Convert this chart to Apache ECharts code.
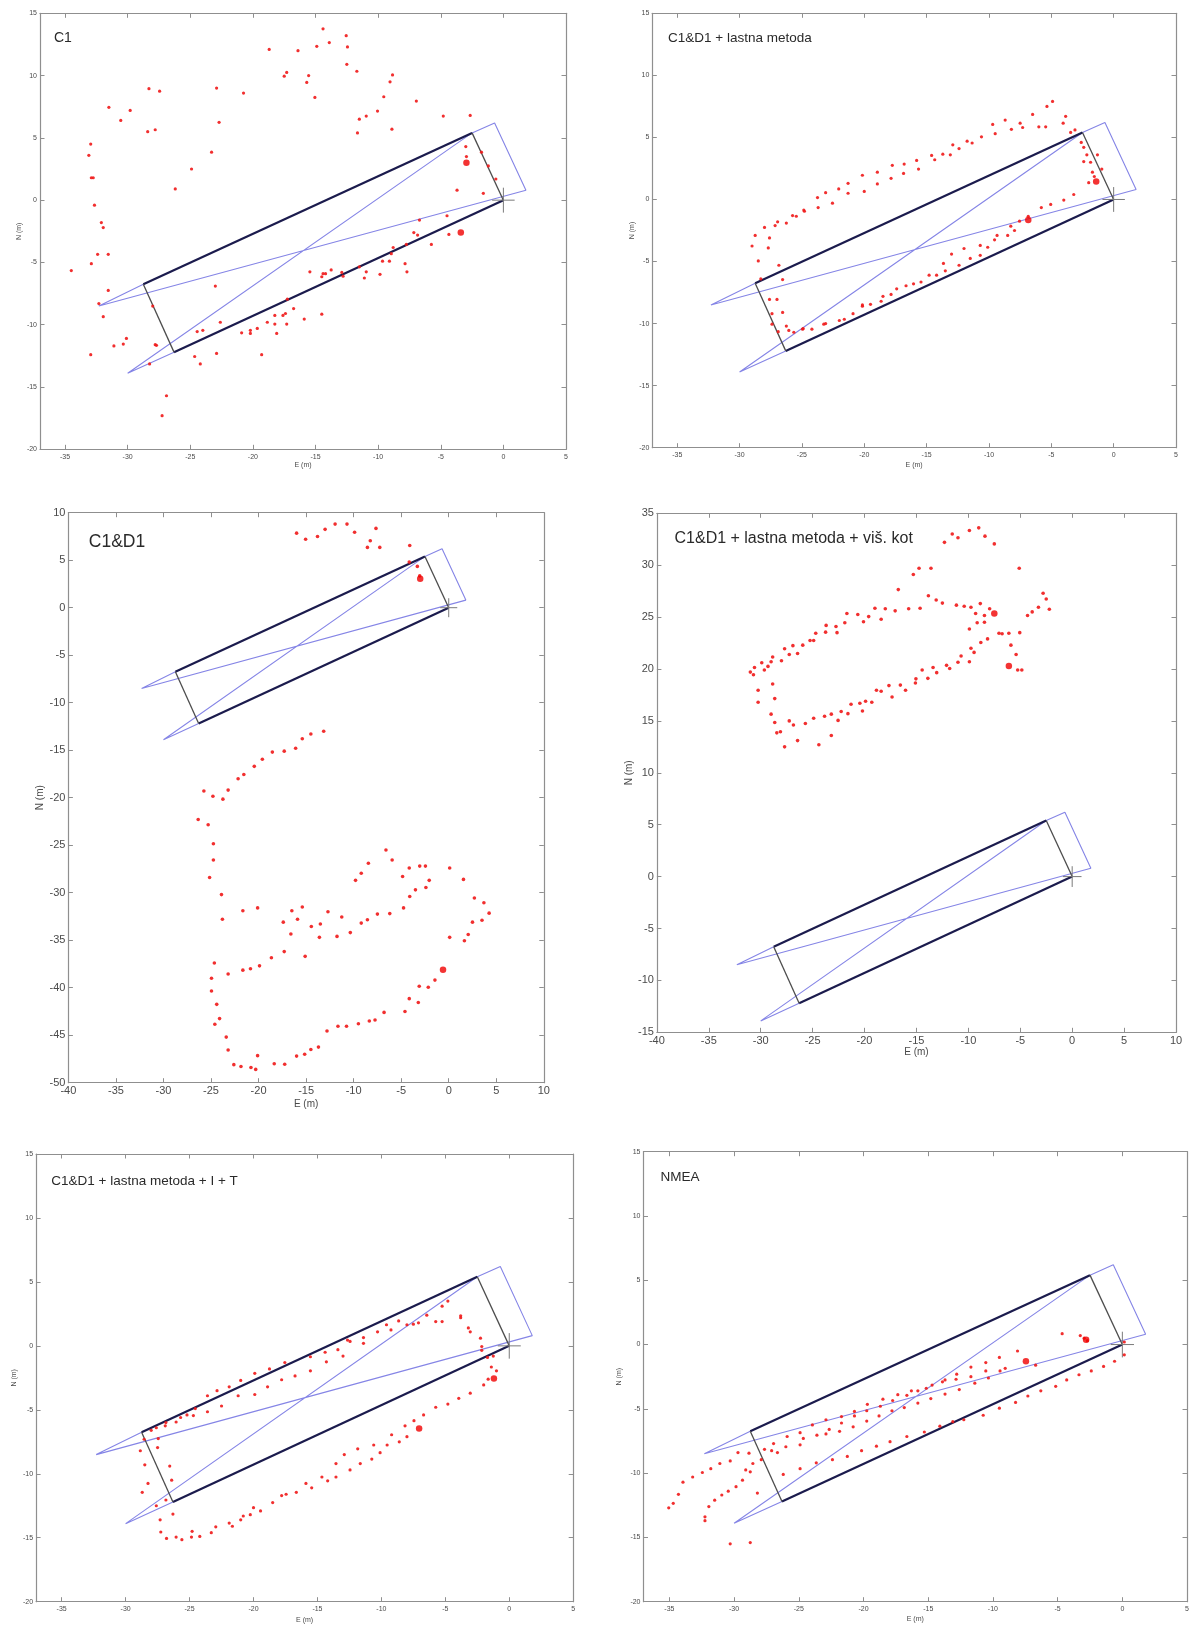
<!DOCTYPE html>
<html>
<head>
<meta charset="utf-8">
<script src="https://cdn.jsdelivr.net/npm/echarts@6/dist/echarts.min.js"></script>
<style>
html,body{margin:0;padding:0;background:#fff;}
#chart{width:1192px;height:1625px;}
</style>
</head>
<body>
<div id="chart"></div>
<script>
// ---------- DATA ----------
const panelTitles = ["C1", "C1&D1 + lastna metoda", "C1&D1", "C1&D1 + lastna metoda + viš. kot", "C1&D1 + lastna metoda + I + T", "NMEA"];
const xLabelName = "E (m)";
const yLabelName = "N (m)";

// axis ranges per panel [xmin, xmax, ymin, ymax]
const axisRanges = [
  [-37, 5, -20, 15],
  [-37, 5, -20, 15],
  [-40, 10, -50, 10],
  [-40, 10, -15, 35],
  [-37, 5, -20, 15],
  [-37, 5, -20, 15]
];
const xTicksA = [-35, -30, -25, -20, -15, -10, -5, 0, 5];
const xTicksB = [-40, -35, -30, -25, -20, -15, -10, -5, 0, 5, 10];
const yTicksA = [-20, -15, -10, -5, 0, 5, 10, 15];
const yTicksB = [-50, -45, -40, -35, -30, -25, -20, -15, -10, -5, 0, 5, 10];
const yTicksC = [-15, -10, -5, 0, 5, 10, 15, 20, 25, 30, 35];

// building outline (E, N)
const rectTopEdge = [[-28.75, -6.75], [-2.5, 5.4]];
const rectBottomEdge = [[0, 0], [-26.3, -12.2]];
const rectRightEdge = [[-2.5, 5.4], [0, 0]];
const rectLeftEdge = [[-28.75, -6.75], [-26.3, -12.2]];
const bluePath = [[-28.75, -6.75], [-32.3, -8.5], [1.8, 0.8], [-0.7, 6.2], [-2.5, 5.4], [-30.0, -13.9], [-26.3, -12.2]];
const crossH = [[-0.9, 0], [0.9, 0]];
const crossV = [[0, -1.0], [0, 1.0]];

// measured positions
const pts1 = [[-14.4,13.75],[-12.55,13.2],[-18.7,12.1],[-16.4,12.0],[-14.9,12.35],[-13.9,12.65],[-12.45,12.3],[-12.5,10.9],[-17.3,10.25],[-17.5,9.95],[-15.55,10.0],[-15.7,9.45],[-11.7,10.35],[-8.85,10.05],[-9.05,9.5],[-15.05,8.25],[-9.55,8.3],[-6.95,7.95],[-10.05,7.15],[-11.5,6.5],[-10.95,6.75],[-4.8,6.75],[-2.65,6.8],[-11.65,5.4],[-8.9,5.7],[-22.9,9.0],[-20.75,8.6],[-22.7,6.25],[-23.3,3.85],[-24.9,2.5],[-26.2,0.9],[-28.3,8.95],[-27.45,8.75],[-28.4,5.5],[-27.8,5.65],[-31.5,7.45],[-29.8,7.2],[-30.55,6.4],[-32.95,4.5],[-33.1,3.6],[-32.9,1.8],[-32.75,1.8],[-32.65,-0.4],[-32.1,-1.8],[-31.95,-2.2],[-32.4,-4.35],[-31.55,-4.35],[-32.9,-5.1],[-34.5,-5.65],[-31.55,-7.25],[-32.3,-8.3],[-31.95,-9.35],[-28.0,-8.5],[-31.1,-11.7],[-30.35,-11.55],[-30.1,-11.1],[-32.95,-12.4],[-27.8,-11.6],[-27.7,-11.65],[-28.25,-13.15],[-26.9,-15.7],[-27.25,-17.3],[-24.45,-10.55],[-24.0,-10.45],[-22.6,-9.8],[-24.65,-12.55],[-24.2,-13.15],[-22.9,-12.3],[-23.0,-6.9],[-20.9,-10.65],[-20.2,-10.45],[-20.2,-10.7],[-19.65,-10.3],[-19.3,-12.4],[-18.85,-9.8],[-18.25,-9.25],[-18.25,-9.95],[-18.1,-10.7],[-17.6,-9.25],[-17.4,-9.1],[-17.3,-9.95],[-17.25,-7.95],[-16.75,-8.7],[-15.9,-9.55],[-15.45,-5.75],[-14.5,-6.15],[-14.4,-5.9],[-14.2,-5.9],[-13.75,-5.6],[-14.5,-9.15],[-12.9,-5.8],[-12.8,-6.1],[-11.5,-5.35],[-11.1,-6.25],[-10.95,-5.75],[-9.85,-5.95],[-9.65,-4.9],[-9.1,-4.9],[-8.95,-4.3],[-8.8,-3.8],[-7.85,-5.1],[-7.7,-5.75],[-7.75,-3.55],[-7.15,-2.6],[-6.85,-2.8],[-6.7,-1.6],[-5.75,-3.55],[-4.5,-1.25],[-4.35,-2.75],[-3.7,0.8],[-2.95,3.5],[-3.0,4.3],[-1.75,3.85],[-1.2,2.75],[-0.6,1.7],[-1.6,0.55]];
const big1 = [[-3.4,-2.6],[-2.95,3.0]];

const pts2 = [[-4.9,7.9],[-5.35,7.5],[-3.85,6.7],[-6.5,6.85],[-4.05,6.15],[-8.7,6.4],[-7.5,6.15],[-9.7,6.05],[-6.0,5.85],[-5.45,5.85],[-7.3,5.8],[-8.2,5.65],[-3.45,5.4],[-3.1,5.6],[-9.5,5.3],[-10.6,5.05],[-11.75,4.7],[-11.35,4.55],[-12.9,4.4],[-12.4,4.1],[-14.6,3.55],[-14.35,3.2],[-13.7,3.65],[-13.1,3.6],[-15.8,3.15],[-15.65,2.45],[-16.8,2.85],[-17.75,2.75],[-16.85,2.1],[-17.85,1.7],[-18.95,2.2],[-18.95,1.25],[-20.15,1.95],[-20.0,0.65],[-21.3,1.3],[-21.3,0.5],[-22.05,0.85],[-23.1,0.55],[-23.75,0.15],[-22.55,-0.3],[-23.7,-0.65],[-24.8,-0.95],[-24.85,-0.85],[-25.75,-1.3],[-25.45,-1.35],[-26.25,-1.9],[-26.95,-1.8],[-27.15,-2.1],[-28.0,-2.25],[-27.6,-3.1],[-28.75,-2.9],[-29.0,-3.75],[-27.7,-3.9],[-28.5,-4.95],[-26.85,-5.3],[-28.3,-6.4],[-26.55,-6.45],[-27.6,-8.05],[-27.0,-8.05],[-27.4,-9.2],[-26.55,-9.1],[-27.4,-10.05],[-26.9,-10.65],[-26.25,-10.2],[-26.05,-10.55],[-25.65,-10.7],[-24.95,-10.45],[-24.9,-10.4],[-24.2,-10.45],[-23.25,-10.05],[-23.1,-10.0],[-22.0,-9.75],[-21.6,-9.65],[-20.9,-9.2],[-20.15,-8.6],[-20.15,-8.5],[-19.5,-8.45],[-18.65,-8.2],[-18.5,-7.8],[-17.85,-7.65],[-17.4,-7.2],[-16.65,-6.95],[-16.05,-6.8],[-15.45,-6.65],[-14.8,-6.1],[-14.2,-6.1],[-13.65,-5.15],[-13.5,-5.75],[-13.0,-4.4],[-12.4,-5.3],[-12.0,-3.95],[-11.5,-4.75],[-10.7,-4.5],[-10.7,-3.7],[-10.1,-3.85],[-9.55,-3.25],[-9.35,-2.9],[-8.5,-2.9],[-8.25,-2.15],[-7.95,-2.5],[-7.55,-1.75],[-6.85,-1.35],[-5.8,-0.65],[-5.05,-0.4],[-4.0,-0.05],[-3.2,0.4],[-2.6,4.6],[-2.4,4.2],[-2.15,3.6],[-1.3,3.6],[-2.4,3.05],[-1.85,3.0],[-0.95,2.45],[-1.7,2.2],[-1.55,1.85],[-2.0,1.35]];
const big2 = [[-6.85,-1.65],[-1.4,1.45]];

const pts3 = [[-16.0,7.85],[-15.05,7.2],[-13.8,7.5],[-13.0,8.25],[-11.95,8.8],[-10.7,8.8],[-9.9,7.95],[-7.65,8.35],[-8.25,7.05],[-8.55,6.35],[-7.25,6.35],[-4.1,6.55],[-4.15,4.8],[-3.3,4.35],[-3.05,3.35],[-13.15,-13.0],[-14.5,-13.3],[-15.4,-13.8],[-16.1,-14.8],[-17.3,-15.1],[-18.55,-15.2],[-19.6,-15.95],[-20.45,-16.7],[-21.55,-17.55],[-22.15,-18.0],[-23.2,-19.2],[-23.75,-20.15],[-24.8,-19.85],[-25.75,-19.3],[-26.35,-22.3],[-25.3,-22.85],[-24.75,-24.85],[-24.75,-26.55],[-25.15,-28.4],[-23.9,-30.2],[-23.8,-32.8],[-21.65,-31.9],[-20.1,-31.6],[-24.65,-37.4],[-24.95,-39.0],[-23.2,-38.55],[-21.65,-38.15],[-20.85,-38.0],[-19.9,-37.7],[-18.65,-36.85],[-17.3,-36.2],[-15.1,-36.7],[-16.6,-34.35],[-17.4,-33.1],[-16.5,-31.9],[-15.4,-31.5],[-15.9,-32.8],[-14.45,-33.55],[-13.5,-33.3],[-13.6,-34.7],[-12.7,-32.0],[-11.75,-34.6],[-11.25,-32.55],[-10.35,-34.2],[-9.2,-33.2],[-8.55,-32.85],[-7.5,-32.25],[-6.2,-32.2],[-4.75,-31.6],[-4.1,-30.4],[-3.5,-29.7],[-2.4,-29.45],[-2.05,-28.7],[-4.85,-28.3],[-4.15,-27.4],[-3.05,-27.2],[-2.45,-27.2],[0.1,-27.4],[1.55,-28.6],[2.7,-30.55],[3.7,-31.05],[4.25,-32.15],[3.5,-32.9],[2.5,-33.1],[2.05,-34.4],[1.65,-35.05],[0.1,-34.7],[-6.6,-25.5],[-5.95,-26.55],[-8.45,-26.9],[-9.2,-27.95],[-9.8,-28.7],[-1.45,-39.2],[-2.15,-39.95],[-3.1,-39.85],[-4.15,-41.15],[-3.2,-41.55],[-4.6,-42.5],[-6.8,-42.6],[-7.75,-43.4],[-8.35,-43.5],[-9.5,-43.8],[-10.75,-44.05],[-11.65,-44.05],[-12.8,-44.55],[-13.7,-46.25],[-14.5,-46.5],[-15.15,-47.0],[-16.0,-47.2],[-17.25,-48.05],[-18.35,-48.0],[-20.1,-47.15],[-20.3,-48.6],[-20.8,-48.4],[-21.85,-48.3],[-22.6,-48.1],[-23.2,-46.55],[-23.4,-45.2],[-24.1,-43.25],[-24.6,-43.85],[-24.4,-41.75],[-24.95,-40.35]];
const big3 = [[-3.0,3.05],[-0.6,-38.1]];

const pts4 = [[-12.3,32.2],[-11.55,33.0],[-11.0,32.65],[-9.9,33.35],[-9.0,33.6],[-8.4,32.8],[-7.5,32.05],[-14.75,29.7],[-13.6,29.7],[-15.3,29.1],[-5.1,29.7],[-16.75,27.65],[-13.85,27.05],[-13.1,26.65],[-12.5,26.35],[-11.15,26.15],[-10.4,26.05],[-9.75,25.95],[-8.85,26.3],[-9.3,25.35],[-8.45,25.15],[-7.95,25.8],[-8.45,24.5],[-9.15,24.45],[-9.9,23.85],[-7.05,23.45],[-6.75,23.4],[-6.1,23.45],[-5.05,23.5],[-8.15,22.9],[-8.8,22.55],[-5.9,22.3],[-9.75,22.0],[-9.45,21.6],[-5.4,21.4],[-10.7,21.25],[-11.0,20.65],[-9.9,20.7],[-5.25,19.9],[-4.85,19.9],[-4.3,25.15],[-3.85,25.5],[-3.25,25.95],[-2.8,27.3],[-2.5,26.75],[-2.2,25.75],[-12.1,20.35],[-11.8,20.05],[-13.05,19.65],[-13.4,20.15],[-13.9,19.1],[-14.45,19.9],[-15.05,19.05],[-15.1,18.65],[-16.05,17.95],[-16.55,18.45],[-17.35,17.3],[-17.65,18.4],[-18.4,17.85],[-18.85,17.95],[-19.3,16.8],[-19.9,16.9],[-20.2,15.95],[-20.45,16.7],[-21.3,16.6],[-21.6,15.7],[-22.25,15.9],[-22.55,15.05],[-23.2,15.65],[-24.4,12.7],[-23.2,13.6],[-23.85,15.45],[-24.9,15.25],[-25.7,14.75],[-26.45,13.1],[-26.85,14.6],[-27.25,15.0],[-27.7,12.5],[-28.1,13.95],[-28.45,13.85],[-28.65,14.85],[-29.0,15.65],[-28.65,17.15],[-28.85,18.55],[-30.25,16.8],[-30.25,17.95],[-31.0,19.7],[-30.7,19.45],[-30.6,20.15],[-29.9,20.6],[-29.65,19.9],[-29.3,20.25],[-29.0,20.7],[-28.85,21.15],[-28.0,20.8],[-27.7,21.95],[-27.25,21.4],[-26.9,22.25],[-26.45,21.5],[-25.95,22.3],[-25.25,22.75],[-24.9,22.75],[-24.7,23.45],[-23.75,23.55],[-23.7,24.2],[-22.75,24.1],[-22.65,23.5],[-21.9,24.45],[-21.7,25.35],[-20.65,25.25],[-20.1,24.55],[-19.6,25.05],[-19.0,25.85],[-18.4,24.8],[-18.0,25.8],[-17.05,25.6],[-15.75,25.8],[-14.65,25.85]];
const big4 = [[-7.5,25.35],[-6.1,20.3]];

const pts5 = [[-4.8,3.5],[-5.25,3.1],[-3.8,2.35],[-3.8,2.2],[-5.75,1.9],[-5.25,1.9],[-6.45,2.4],[-7.1,1.8],[-7.5,1.7],[-8.0,1.65],[-8.65,1.95],[-9.25,1.25],[-9.6,1.65],[-10.3,1.1],[-11.4,0.65],[-11.4,0.2],[-12.45,0.35],[-12.65,0.45],[-13.0,-0.8],[-13.4,-0.3],[-14.4,-0.5],[-14.3,-1.25],[-15.55,-0.85],[-15.55,-1.95],[-16.75,-2.35],[-17.55,-1.3],[-17.8,-2.65],[-18.75,-1.8],[-18.9,-3.2],[-19.9,-2.15],[-19.9,-3.8],[-21.0,-2.7],[-21.2,-3.9],[-21.9,-3.2],[-22.5,-4.7],[-22.85,-3.5],[-23.6,-3.9],[-23.6,-5.15],[-24.55,-4.9],[-24.7,-5.45],[-25.2,-5.4],[-25.7,-5.6],[-26.05,-5.95],[-26.9,-6.25],[-26.85,-6.0],[-27.6,-6.4],[-28.0,-6.6],[-28.55,-7.3],[-28.85,-8.2],[-28.5,-9.3],[-28.25,-10.75],[-28.7,-11.45],[-27.6,-12.5],[-27.3,-13.6],[-27.25,-14.55],[-26.8,-15.05],[-26.05,-14.95],[-25.6,-15.15],[-24.85,-14.95],[-24.8,-14.5],[-24.2,-14.9],[-23.3,-14.6],[-22.95,-14.15],[-21.9,-13.85],[-21.65,-14.1],[-21.0,-13.6],[-20.8,-13.3],[-20.25,-13.2],[-20.0,-12.65],[-19.45,-12.9],[-18.5,-12.25],[-17.8,-11.7],[-17.45,-11.6],[-16.65,-11.45],[-15.9,-10.75],[-15.45,-11.1],[-14.65,-10.25],[-14.2,-10.55],[-13.55,-10.25],[-13.55,-9.2],[-12.9,-8.5],[-12.45,-9.7],[-11.85,-8.05],[-11.65,-9.2],[-10.75,-8.85],[-10.6,-7.75],[-10.1,-8.35],[-9.55,-7.75],[-9.2,-6.95],[-8.6,-7.5],[-8.0,-7.1],[-8.15,-6.25],[-7.45,-5.85],[-6.7,-5.4],[-5.75,-4.8],[-4.8,-4.55],[-3.95,-4.1],[-3.05,-3.7],[-2.0,-3.05],[-1.65,-2.6],[-1.0,-1.95],[-1.4,-1.65],[-1.25,-0.8],[-1.7,-0.9],[-2.15,-0.35],[-2.15,-0.05],[-2.25,0.6],[-3.05,1.1],[-3.2,1.4],[-26.55,-9.4],[-26.4,-10.5],[-26.3,-13.15],[-26.85,-12.05],[-27.45,-7.25],[-27.5,-7.95]];
const big5 = [[-7.05,-6.45],[-1.2,-2.55]];

const pts6 = [[-4.65,0.85],[-3.25,0.7],[-2.95,0.5],[-2.7,0.3],[0.15,0.2],[0.15,-0.8],[-0.6,-1.3],[-1.45,-1.7],[-2.4,-2.05],[-3.35,-2.35],[-4.3,-2.75],[-5.15,-3.25],[-6.3,-3.6],[-7.3,-4.0],[-8.25,-4.5],[-9.5,-4.95],[-10.75,-5.5],[-12.25,-5.85],[-13.1,-6.0],[-14.1,-6.35],[-15.3,-6.8],[-16.65,-7.15],[-17.95,-7.55],[-19.0,-7.9],[-20.15,-8.25],[-21.25,-8.7],[-22.4,-8.95],[-23.65,-9.2],[-24.9,-9.65],[-26.2,-10.1],[-28.2,-11.55],[-6.7,-1.6],[-8.1,-0.5],[-9.5,-1.0],[-9.05,-1.85],[-9.45,-2.05],[-10.55,-1.4],[-10.55,-2.05],[-10.35,-2.6],[-11.7,-1.75],[-11.7,-2.5],[-11.4,-3.0],[-12.6,-3.5],[-12.8,-2.3],[-12.85,-2.7],[-13.7,-2.75],[-13.9,-2.9],[-13.7,-3.85],[-14.7,-3.15],[-14.8,-4.2],[-15.15,-3.4],[-15.8,-3.6],[-15.8,-4.55],[-16.3,-3.6],[-16.65,-3.95],[-16.85,-4.9],[-17.35,-3.9],[-17.75,-4.35],[-17.8,-5.15],[-18.5,-4.25],[-18.7,-4.8],[-18.8,-5.55],[-19.7,-4.65],[-19.75,-5.15],[-19.75,-5.95],[-20.7,-5.2],[-20.7,-5.55],[-20.8,-6.4],[-21.7,-5.6],[-21.7,-6.1],[-21.85,-6.75],[-22.9,-5.85],[-22.9,-6.95],[-22.65,-6.6],[-23.6,-7.05],[-23.95,-6.25],[-24.65,-7.3],[-24.9,-6.85],[-24.9,-7.8],[-25.9,-7.15],[-26.0,-7.95],[-26.65,-8.4],[-26.95,-7.7],[-27.1,-8.25],[-27.65,-8.15],[-27.9,-8.95],[-28.85,-8.45],[-28.55,-9.25],[-28.75,-9.9],[-29.1,-9.75],[-29.35,-10.55],[-29.7,-8.4],[-30.3,-9.05],[-30.45,-11.4],[-29.85,-11.05],[-30.95,-11.7],[-31.5,-12.1],[-31.95,-12.6],[-32.25,-13.4],[-32.25,-13.7],[-31.8,-9.65],[-31.1,-9.25],[-32.45,-9.95],[-33.2,-10.3],[-33.95,-10.7],[-34.3,-11.65],[-34.7,-12.35],[-35.05,-12.7],[-30.3,-15.5],[-28.75,-15.4]];
const big6 = [[-2.8,0.38],[-7.45,-1.3]];

const panelPoints = [pts1, pts2, pts3, pts4, pts5, pts6];
const panelBig = [big1, big2, big3, big4, big5, big6];

// ---------- LAYOUT ----------
const grids = [
  {left: 40, top: 13.3, width: 526, height: 436},
  {left: 652.3, top: 13.3, width: 523.7, height: 434.4},
  {left: 68.4, top: 512.7, width: 475.4, height: 570},
  {left: 656.9, top: 513.3, width: 519.1, height: 519},
  {left: 36.1, top: 1154, width: 537.1, height: 447.7},
  {left: 643.5, top: 1151.7, width: 546, height: 450}
];
const layout = [
  {tickFont: 7, nameFont: 7, xGap: 12.5, yGap: 17.5, xTicks: xTicksA, yTicks: yTicksA, title: {left: 54, top: 31.5, size: 14}},
  {tickFont: 7, nameFont: 7, xGap: 13.5, yGap: 16.5, xTicks: xTicksA, yTicks: yTicksA, title: {left: 668, top: 31, size: 13.5}},
  {tickFont: 11, nameFont: 10, xGap: 17, yGap: 22, xTicks: xTicksB, yTicks: yTicksB, title: {left: 88.8, top: 533, size: 17.5}},
  {tickFont: 11, nameFont: 10, xGap: 15, yGap: 21, xTicks: xTicksB, yTicks: yTicksC, title: {left: 674.5, top: 531, size: 16}},
  {tickFont: 7, nameFont: 7, xGap: 14.5, yGap: 18.5, xTicks: xTicksA, yTicks: yTicksA, title: {left: 51.3, top: 1174, size: 13.5}},
  {tickFont: 7, nameFont: 7, xGap: 13.5, yGap: 20.5, xTicks: xTicksA, yTicks: yTicksA, title: {left: 660.6, top: 1170, size: 13.5}}
];

const FONT = "'Liberation Sans', Arial, sans-serif";
const boxColor = '#8f8f8f';
const labelColor = '#4a4a4a';

const option = {
  animation: false,
  backgroundColor: '#ffffff',
  title: [],
  grid: [],
  xAxis: [],
  yAxis: [],
  series: []
};

for (let i = 0; i < 6; i++) {
  const g = grids[i], L = layout[i], r = axisRanges[i];
  option.grid.push({left: g.left, top: g.top, width: g.width, height: g.height, containLabel: false, show: false});
  option.title.push({
    text: panelTitles[i], left: L.title.left, top: L.title.top, padding: 0,
    textStyle: {fontFamily: FONT, fontSize: L.title.size, fontWeight: 'normal', color: '#2a2a2a'}
  });
  const tickCommon = {show: true, inside: true, length: 4.5, lineStyle: {color: boxColor, width: 1}};
  option.xAxis.push({
    type: 'value', gridIndex: i, position: 'bottom', min: r[0], max: r[1],
    name: xLabelName, nameLocation: 'middle', nameGap: L.xGap,
    nameTextStyle: {fontFamily: FONT, fontSize: L.nameFont, color: labelColor},
    axisLine: {show: true, onZero: false, lineStyle: {color: boxColor, width: 1.2}},
    axisTick: Object.assign({customValues: L.xTicks}, tickCommon),
    axisLabel: {customValues: L.xTicks, fontFamily: FONT, fontSize: L.tickFont, color: labelColor, margin: L.tickFont > 8 ? 3 : 4, showMinLabel: true, showMaxLabel: true},
    splitLine: {show: false}
  });
  option.xAxis.push({
    type: 'value', gridIndex: i, position: 'top', min: r[0], max: r[1],
    axisLine: {show: true, onZero: false, lineStyle: {color: boxColor, width: 1.2}},
    axisTick: Object.assign({customValues: L.xTicks}, tickCommon),
    axisLabel: {show: false},
    splitLine: {show: false}
  });
  option.yAxis.push({
    type: 'value', gridIndex: i, position: 'left', min: r[2], max: r[3],
    name: yLabelName, nameLocation: 'middle', nameGap: L.yGap, nameRotate: 90,
    nameTextStyle: {fontFamily: FONT, fontSize: L.nameFont, color: labelColor},
    axisLine: {show: true, onZero: false, lineStyle: {color: boxColor, width: 1.2}},
    axisTick: Object.assign({customValues: L.yTicks}, tickCommon),
    axisLabel: {customValues: L.yTicks, fontFamily: FONT, fontSize: L.tickFont, color: labelColor, margin: 3, showMinLabel: true, showMaxLabel: true},
    splitLine: {show: false}
  });
  option.yAxis.push({
    type: 'value', gridIndex: i, position: 'right', min: r[2], max: r[3],
    axisLine: {show: true, onZero: false, lineStyle: {color: boxColor, width: 1.2}},
    axisTick: Object.assign({customValues: L.yTicks}, tickCommon),
    axisLabel: {show: false},
    splitLine: {show: false}
  });

  const xi = 2 * i, yi = 2 * i;
  const lineSeries = (data, color, width, z) => ({
    type: 'line', xAxisIndex: xi, yAxisIndex: yi, data: data,
    symbol: 'none', showSymbol: false, silent: true, z: z,
    lineStyle: {color: color, width: width}, clip: true
  });
  option.series.push(lineSeries(bluePath, '#8585e6', 1.1, 2));
  option.series.push(lineSeries(rectTopEdge, '#1b1b4d', 2.2, 3));
  option.series.push(lineSeries(rectBottomEdge, '#1b1b4d', 2.2, 3));
  option.series.push(lineSeries(rectRightEdge, '#4d4d4d', 1.3, 3));
  option.series.push(lineSeries(rectLeftEdge, '#4d4d4d', 1.3, 3));
  option.series.push(lineSeries(crossH, '#7a7a7a', 1, 3));
  option.series.push(lineSeries(crossV, '#7a7a7a', 1, 3));
  option.series.push({
    type: 'scatter', xAxisIndex: xi, yAxisIndex: yi, data: panelPoints[i],
    symbol: 'circle', symbolSize: i === 2 || i === 3 ? 3.6 : 3.2, silent: true, z: 5,
    itemStyle: {color: '#f01818', opacity: 0.9}
  });
  option.series.push({
    type: 'scatter', xAxisIndex: xi, yAxisIndex: yi, data: panelBig[i],
    symbol: 'circle', symbolSize: 6.5, silent: true, z: 6,
    itemStyle: {color: '#f00000'}
  });
}

const chart = echarts.init(document.getElementById('chart'), null, {renderer: 'canvas'});
chart.setOption(option);
</script>
</body>
</html>
